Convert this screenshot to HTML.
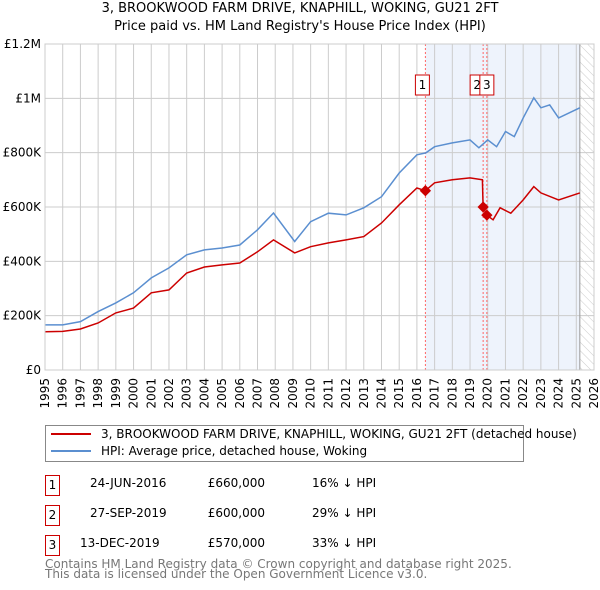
<!DOCTYPE html>
<html><head><meta charset="utf-8"><style>
body{margin:0;background:#fff;font-family:"DejaVu Sans","Liberation Sans",sans-serif;}
#wrap{position:relative;width:600px;height:590px;overflow:hidden}
.t{position:absolute;font-size:12px;color:#000;white-space:nowrap}
.box{position:absolute;width:13px;height:19px;border:1px solid #c00;font-size:12px;text-align:center;line-height:19px}
</style></head><body><div id="wrap">
<div class="t" style="left:0;width:600px;text-align:center;top:1px;font-size:13px">3, BROOKWOOD FARM DRIVE, KNAPHILL, WOKING, GU21 2FT</div>
<div class="t" style="left:0;width:600px;text-align:center;top:19px;font-size:13px">Price paid vs. HM Land Registry's House Price Index (HPI)</div>
<svg id="plot" width="600" height="420" style="position:absolute;left:0;top:0" font-family="DejaVu Sans, Liberation Sans, sans-serif" font-size="12"></svg>
<div style="position:absolute;left:45px;top:425px;width:477px;height:35px;border:1px solid #888"></div>
<div style="position:absolute;left:51px;top:433px;width:40px;height:2px;background:#c00"></div>
<div class="t" style="left:101px;top:427px">3, BROOKWOOD FARM DRIVE, KNAPHILL, WOKING, GU21 2FT (detached house)</div>
<div style="position:absolute;left:51px;top:450px;width:40px;height:2px;background:#5b8fd0"></div>
<div class="t" style="left:101px;top:444px">HPI: Average price, detached house, Woking</div>
<div class="box" style="left:45px;top:475px">1</div>
<div class="t" style="left:90px;width:68px;text-align:right;top:476px">24-JUN-2016</div>
<div class="t" style="left:200px;width:65px;text-align:right;top:476px">£660,000</div>
<div class="t" style="left:312px;top:476px">16% ↓ HPI</div>
<div class="box" style="left:45px;top:505px">2</div>
<div class="t" style="left:90px;width:68px;text-align:right;top:506px">27-SEP-2019</div>
<div class="t" style="left:200px;width:65px;text-align:right;top:506px">£600,000</div>
<div class="t" style="left:312px;top:506px">29% ↓ HPI</div>
<div class="box" style="left:45px;top:535px">3</div>
<div class="t" style="left:80px;width:78px;text-align:right;top:536px">13-DEC-2019</div>
<div class="t" style="left:200px;width:65px;text-align:right;top:536px">£570,000</div>
<div class="t" style="left:312px;top:536px">33% ↓ HPI</div>
<div class="t" style="left:45px;top:559px;color:#777;line-height:10px">Contains HM Land Registry data © Crown copyright and database right 2025.<br>This data is licensed under the Open Government Licence v3.0.</div>
</div>
<script>
const hpiYears=[1995,1996,1997,1998,1999,2000,2001,2002,2003,2004,2005,2006,2007,2007.9,2009.1,2010,2011,2012,2013,2014,2015,2016,2016.5,2017,2018,2019,2019.5,2020,2020.5,2021,2021.5,2022,2022.6,2023,2023.5,2024,2025.2];
const hpiValues=[166,166,178,215,247,284,339,376,424,442,449,460,516,578,473,546,577,571,597,638,725,792,799,822,836,847,818,847,822,878,859,928,1002,965,976,928,965];
const priceYears=[1995,1996,1997,1998,1999,2000,2001,2002,2003,2004,2005,2006,2007,2007.9,2009.1,2010,2011,2012,2013,2014,2015,2016,2016.48,2017,2018,2019,2019.7,2019.74,2019.95,2020.3,2020.7,2021.3,2022,2022.6,2023,2024,2025.2];
const priceValues=[141,142,151,173,210,228,284,295,357,379,387,394,435,479,431,454,468,479,491,541,608,670,660,689,700,707,700,600,570,553,597,577,626,675,652,626,652];
const saleYears=[2016.48,2019.74,2019.95];
const saleValues=[660,600,570];
const saleLabels=["1","2","3"];
const yTicks=[0,200,400,600,800,1000,1200];
const yTickLabels=["£0","£200K","£400K","£600K","£800K","£1M","£1.2M"];
const xTicks=[1995,1996,1997,1998,1999,2000,2001,2002,2003,2004,2005,2006,2007,2008,2009,2010,2011,2012,2013,2014,2015,2016,2017,2018,2019,2020,2021,2022,2023,2024,2025,2026];
const X0=45,X1=594,Y0=370,Y1=44;
const sx=v=>X0+(v-1995)/31*(X1-X0), sy=v=>Y0-v/1200*(Y0-Y1);
const svg=document.getElementById('plot'),NS='http://www.w3.org/2000/svg';
function mk(t,a,name){const e=document.createElementNS(NS,t);for(const k in a)e.setAttribute(k,a[k]);


svg.appendChild(e);return e;}
mk('defs',{},'defs').innerHTML='<pattern id="hat" width="6" height="6" patternUnits="userSpaceOnUse" patternTransform="rotate(-45)"><line x1="0" y1="0" x2="0" y2="6" stroke="#ccc" stroke-width="1"/></pattern>';
mk('rect',{x:sx(2016.48),y:Y1,width:sx(2025.2)-sx(2016.48),height:Y0-Y1,fill:'#eef3fc'},'sale-period-shade');
mk('rect',{x:sx(2025.2),y:Y1,width:X1-sx(2025.2),height:Y0-Y1,fill:'url(#hat)'},'forecast-hatch');
xTicks.forEach(y=>{mk('line',{x1:sx(y),x2:sx(y),y1:Y1,y2:Y0,stroke:'#ccc'},'x-gridline');
const x=sx(y)+4,yy=Y0+8;
const t=mk('text',{x:x,y:yy,'text-anchor':'end',fill:'#000',transform:`rotate(-90 ${x} ${yy})`},'x-tick-label');t.textContent=y;});
yTicks.forEach((v,i)=>{mk('line',{x1:X0,x2:X1,y1:sy(v),y2:sy(v),stroke:'#ccc'},'y-gridline');
const t=mk('text',{x:X0-4,y:sy(v)+4,'text-anchor':'end',fill:'#000'},'y-tick-label');t.textContent=yTickLabels[i];});
mk('line',{x1:sx(2025.2),x2:sx(2025.2),y1:Y1,y2:Y0,stroke:'#999'},'data-end-line');
saleYears.forEach(y=>mk('line',{x1:sx(y),x2:sx(y),y1:Y1,y2:Y0,stroke:'#f66','stroke-dasharray':'2,2'},'sale-marker-line'));
const pts=(xs,vs)=>xs.map((x,i)=>sx(x).toFixed(1)+','+sy(vs[i]).toFixed(1)).join(' ');
mk('polyline',{points:pts(hpiYears,hpiValues),fill:'none',stroke:'#5b8fd0','stroke-width':1.5},'hpi-line');
mk('polyline',{points:pts(priceYears,priceValues),fill:'none',stroke:'#c00','stroke-width':1.5},'price-line');
saleYears.forEach((y,i)=>mk('rect',{x:sx(y)-4,y:sy(saleValues[i])-4,width:8,height:8,fill:'#c00',transform:`rotate(45 ${sx(y)} ${sy(saleValues[i])})`},'sale-point'));
const off=[-3,-6,0];
saleYears.forEach((y,i)=>{const bx=sx(y)+off[i]-7;mk('rect',{x:bx,y:75,width:14,height:20,fill:'#fff',stroke:'#c00'},'sale-label-box');
const t=mk('text',{x:bx+7,y:89,'text-anchor':'middle',fill:'#000'},'sale-label');t.textContent=saleLabels[i];});
mk('rect',{x:X0,y:Y1,width:X1-X0,height:Y0-Y1,fill:'none',stroke:'#ccc'},'plot-border');
</script></body></html>
